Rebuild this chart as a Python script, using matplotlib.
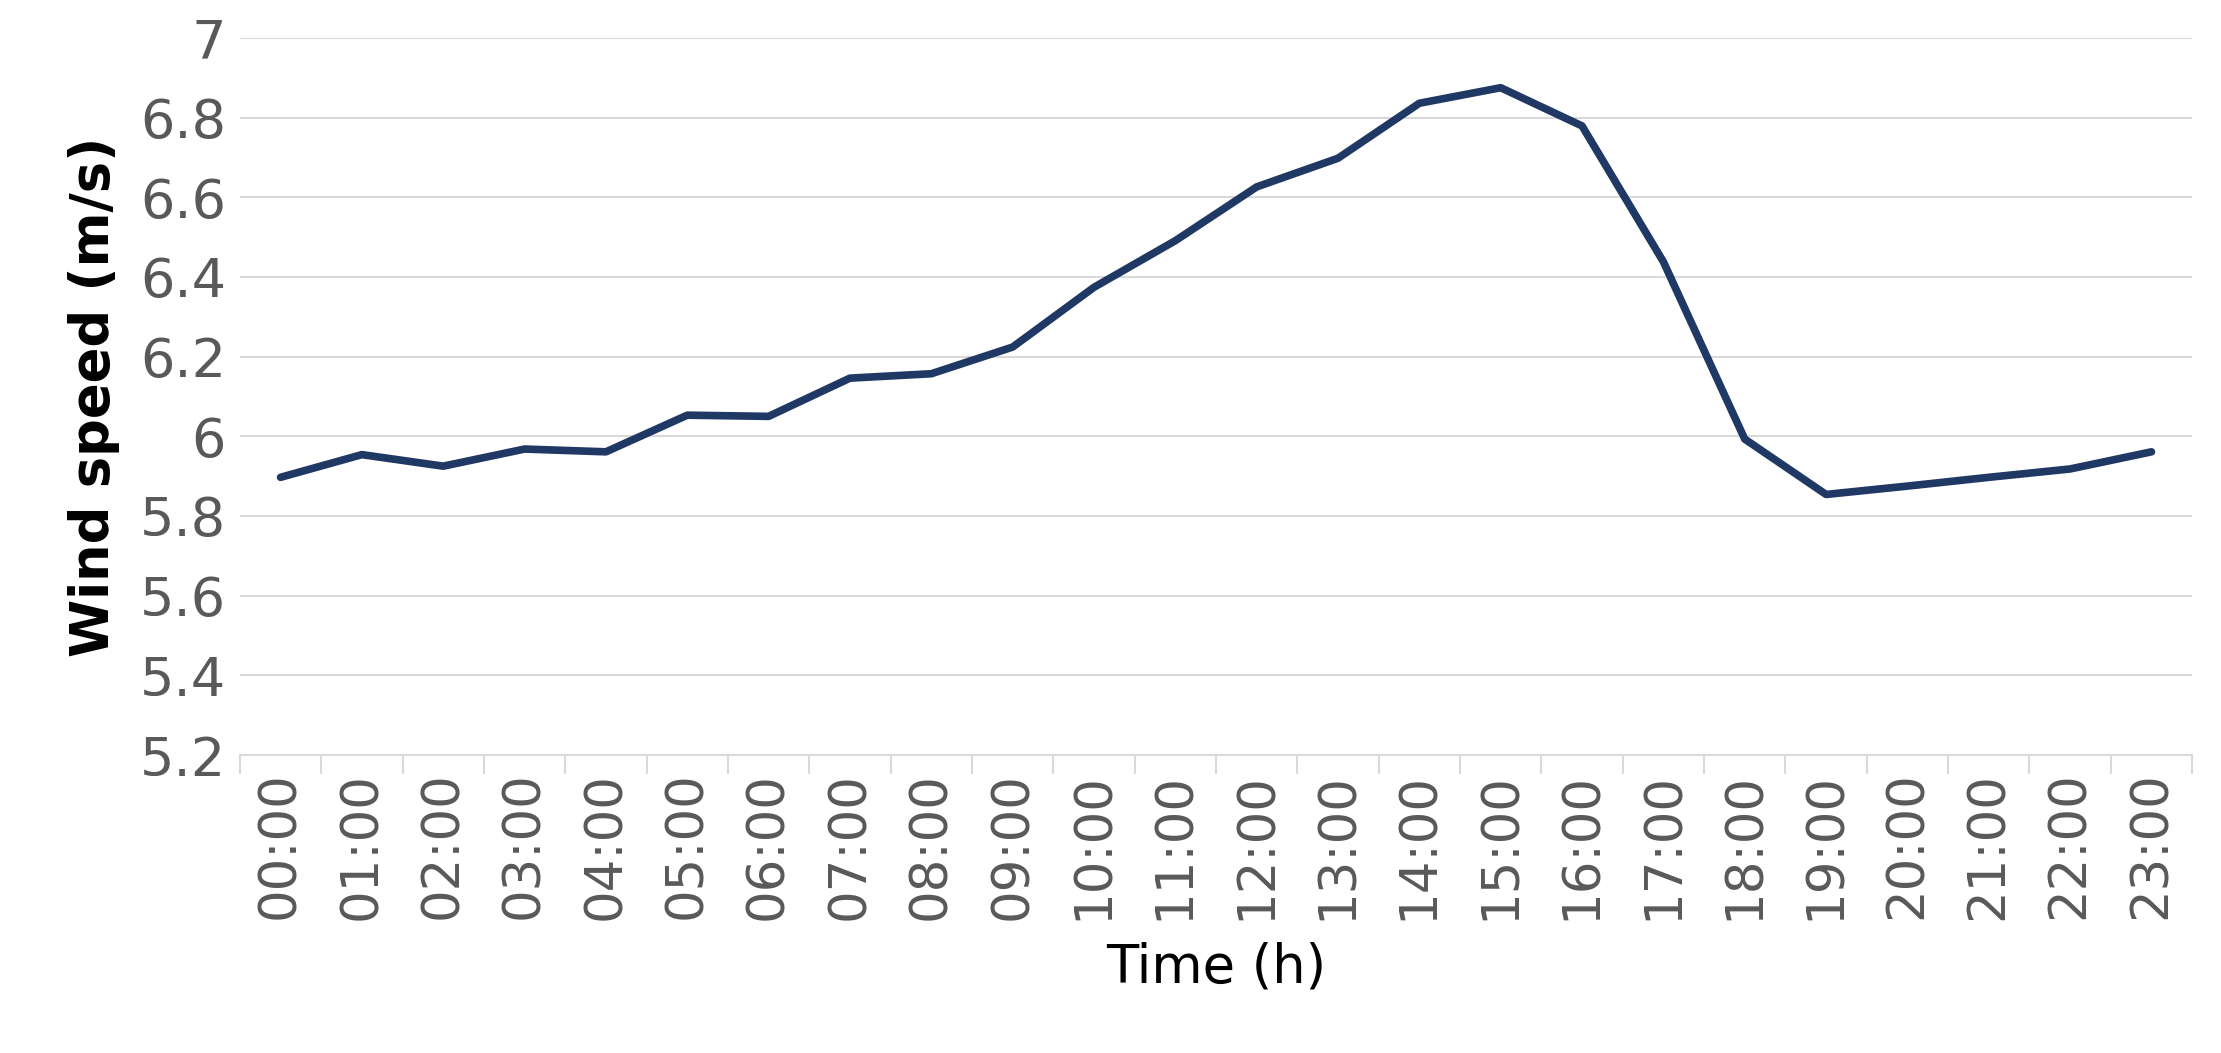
import matplotlib
matplotlib.use("Agg")
import matplotlib.pyplot as plt
import numpy as np

hours = [f"{h:02d}:00" for h in range(24)]
speed = [5.897, 5.954, 5.925, 5.968, 5.961, 6.053, 6.050, 6.146, 6.157, 6.224,
         6.374, 6.491, 6.626, 6.698, 6.836, 6.875, 6.779, 6.438, 5.993, 5.854,
         5.875, 5.897, 5.918, 5.961]
yticks = [5.2, 5.4, 5.6, 5.8, 6, 6.2, 6.4, 6.6, 6.8, 7]

fig = plt.figure(figsize=(22.21, 10.53), dpi=100)
ax = fig.add_axes([0.108, 0.283, 0.879, 0.681])
x = np.arange(len(hours))
ax.plot(x, speed, color="#203864", lw=5.5, solid_capstyle="round", zorder=3)
ax.set_xlim(-0.5, len(hours) - 0.5)
ax.set_ylim(5.2, 7)
ax.set_yticks(yticks)
ax.set_yticklabels([f"{v:g}" for v in yticks])
ax.grid(axis="y", color="#d9d9d9", lw=1.5)
ax.set_xticks(x)
ax.set_xticklabels(hours, rotation=90)
ax.set_xticks(np.arange(-0.5, len(hours)), minor=True)
ax.tick_params(axis="x", which="major", length=0, pad=12, labelsize=37, labelcolor="#595959")
ax.tick_params(axis="x", which="minor", length=14, color="#d9d9d9", width=1.5)
ax.tick_params(axis="y", length=0, labelsize=39, labelcolor="#595959", pad=10)
for s in ["top", "right", "left"]:
    ax.spines[s].set_visible(False)
ax.spines["bottom"].set_color("#d9d9d9")
ax.spines["bottom"].set_linewidth(1.5)
ax.set_xlabel("Time (h)", fontsize=38, labelpad=16)
ax.set_ylabel("Wind speed (m/s)", fontsize=38, fontweight="bold", labelpad=14)
fig.savefig("out.png", dpi=100)
